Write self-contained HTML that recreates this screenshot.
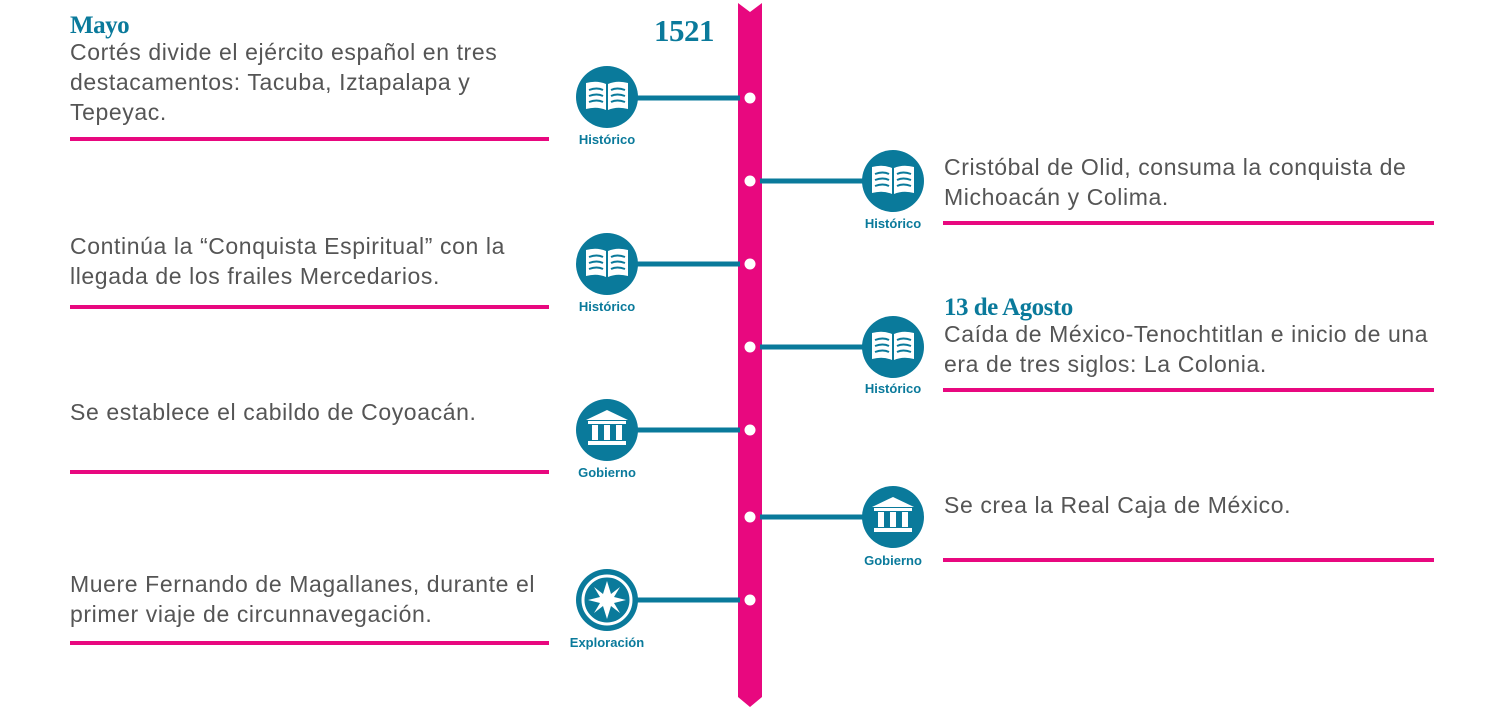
<!DOCTYPE html>
<html><head><meta charset="utf-8"><style>
html,body{margin:0;padding:0;background:#fff;}
svg{display:block}
.t{font-family:"Liberation Sans",sans-serif;font-size:23px;fill:#555;letter-spacing:0.6px}
.h{font-family:"Liberation Serif",serif;font-size:25px;font-weight:bold;fill:#0a7a9b;letter-spacing:-0.5px}
.l{font-family:"Liberation Sans",sans-serif;font-size:13px;font-weight:bold;fill:#0a7a9b;text-anchor:middle}
</style></head><body>
<svg width="1500" height="710" viewBox="0 0 1500 710" xmlns="http://www.w3.org/2000/svg">
<defs>
<g id="book">
<circle r="31" fill="#0a7a9b"/>
<path d="M-21,-14 Q-10,-17 -1,-13 L-1,13 Q-10,9 -21,12 Z M21,-14 Q10,-17 1,-13 L1,13 Q10,9 21,12 Z" fill="#fff"/>
<path d="M-18,-7 Q-10,-10 -4,-7 M-18,-1 Q-10,-4 -4,-1 M-18,5 Q-10,2 -4,5 M18,-7 Q10,-10 4,-7 M18,-1 Q10,-4 4,-1 M18,5 Q10,2 4,5" stroke="#0a7a9b" stroke-width="2" fill="none"/>
</g>
<g id="gov">
<circle r="31" fill="#0a7a9b"/>
<path d="M-21,-10 L0,-20 L21,-10 Z" fill="#fff"/>
<rect x="-19" y="-9" width="38" height="3" fill="#fff"/>
<rect x="-15" y="-5" width="6" height="15" fill="#fff"/>
<rect x="-3" y="-5" width="6" height="15" fill="#fff"/>
<rect x="9" y="-5" width="6" height="15" fill="#fff"/>
<rect x="-19" y="11" width="38" height="4" fill="#fff"/>
</g>
<g id="exp">
<circle r="31" fill="#0a7a9b"/>
<circle r="24" fill="none" stroke="#fff" stroke-width="3"/>
<path d="M0,-19 L4,-6 L13,-13 L7,-3 L19,0 L7,3 L13,13 L4,6 L0,19 L-4,6 L-13,13 L-7,3 L-19,0 L-7,-3 L-13,-13 L-4,-6 Z" fill="#fff"/>
</g>
</defs>
<path d="M738,3 L750,12 L762,3 L762,697 L750,707 L738,697 Z" fill="#e8087f"/>
<text x="684" y="41" class="h" text-anchor="middle" style="font-size:31px">1521</text>
<g stroke="#0a7a9b" stroke-width="5">
<line x1="630" y1="98" x2="740" y2="98"/>
<line x1="630" y1="264" x2="740" y2="264"/>
<line x1="630" y1="430" x2="740" y2="430"/>
<line x1="630" y1="600" x2="740" y2="600"/>
<line x1="760" y1="181" x2="870" y2="181"/>
<line x1="760" y1="347" x2="870" y2="347"/>
<line x1="760" y1="517" x2="870" y2="517"/>
</g>
<g fill="#fff">
<circle cx="750" cy="98" r="5.5"/><circle cx="750" cy="181" r="5.5"/><circle cx="750" cy="264" r="5.5"/>
<circle cx="750" cy="347" r="5.5"/><circle cx="750" cy="430" r="5.5"/><circle cx="750" cy="517" r="5.5"/>
<circle cx="750" cy="600" r="5.5"/>
</g>
<use href="#book" x="607" y="97"/>
<use href="#book" x="607" y="264"/>
<use href="#gov" x="607" y="430"/>
<use href="#exp" x="607" y="600"/>
<use href="#book" x="893" y="181"/>
<use href="#book" x="893" y="347"/>
<use href="#gov" x="893" y="517"/>
<text x="607" y="144" class="l">Histórico</text>
<text x="607" y="311" class="l">Histórico</text>
<text x="607" y="477" class="l">Gobierno</text>
<text x="607" y="647" class="l">Exploración</text>
<text x="893" y="228" class="l">Histórico</text>
<text x="893" y="393" class="l">Histórico</text>
<text x="893" y="565" class="l">Gobierno</text>
<g fill="#e8087f">
<rect x="70" y="137" width="479" height="4"/>
<rect x="70" y="305" width="479" height="4"/>
<rect x="70" y="470" width="479" height="4"/>
<rect x="70" y="641" width="479" height="4"/>
<rect x="943" y="221" width="491" height="4"/>
<rect x="943" y="388" width="491" height="4"/>
<rect x="943" y="558" width="491" height="4"/>
</g>
<text x="70" y="33" class="h">Mayo</text>
<text class="t" x="70" y="60">Cortés divide el ejército español en tres</text>
<text class="t" x="70" y="90">destacamentos: Tacuba, Iztapalapa y</text>
<text class="t" x="70" y="120">Tepeyac.</text>
<text class="t" x="70" y="254">Continúa la “Conquista Espiritual” con la</text>
<text class="t" x="70" y="284">llegada de los frailes Mercedarios.</text>
<text class="t" x="70" y="420">Se establece el cabildo de Coyoacán.</text>
<text class="t" x="70" y="592">Muere Fernando de Magallanes, durante el</text>
<text class="t" x="70" y="622">primer viaje de circunnavegación.</text>
<text class="t" x="944" y="175">Cristóbal de Olid, consuma la conquista de</text>
<text class="t" x="944" y="205">Michoacán y Colima.</text>
<text x="944" y="315" class="h">13 de Agosto</text>
<text class="t" x="944" y="342">Caída de México-Tenochtitlan e inicio de una</text>
<text class="t" x="944" y="372">era de tres siglos: La Colonia.</text>
<text class="t" x="944" y="513">Se crea la Real Caja de México.</text>
</svg>
</body></html>
